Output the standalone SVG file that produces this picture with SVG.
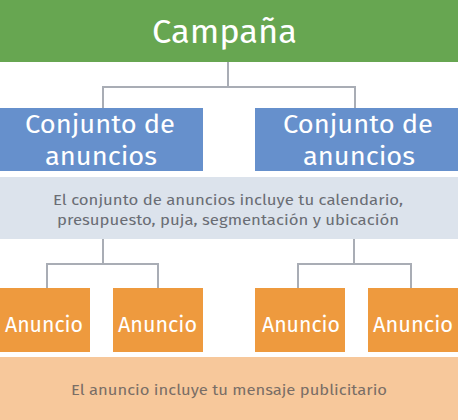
<svg xmlns="http://www.w3.org/2000/svg" width="458" height="420" viewBox="0 0 458 420">
<style>
text{font-family:"Fira Sans","Open Sans","Noto Sans",sans-serif;text-anchor:middle}
.w{fill:#ffffff}
.g{fill:#6a6d74;font-size:15.5px}
.b{fill:#7a6e66;font-size:15.5px}
.conn{fill:none;stroke:#a9adb5;stroke-width:2}
</style>
<rect width="458" height="420" fill="#ffffff"/>
<g id="connectors">
<path class="conn" d="M228 62V87M103 87H355M103 86V108M355 86V108"/>
<path class="conn" d="M103 239V264M47 264H158M47 263V288M158 263V288"/>
<path class="conn" d="M354 239V264M298 264H411M298 263V288M411 263V288"/>
</g>
<g id="campana">
<rect x="0" y="0" width="458" height="62" fill="#67a651"/>
<text class="w" x="224.5" y="43" font-size="33" textLength="145" lengthAdjust="spacingAndGlyphs">Campaña</text>
</g>
<g id="conjunto1">
<rect x="0" y="108" width="203" height="63" fill="#6690cc"/>
<text class="w" x="100" y="133" font-size="26" textLength="150" lengthAdjust="spacingAndGlyphs">Conjunto de</text>
<text class="w" x="101" y="165" font-size="26" textLength="112" lengthAdjust="spacingAndGlyphs">anuncios</text>
</g>
<g id="conjunto2">
<rect x="255" y="108" width="203" height="63" fill="#6690cc"/>
<text class="w" x="358" y="133" font-size="26" textLength="150" lengthAdjust="spacingAndGlyphs">Conjunto de</text>
<text class="w" x="359" y="165" font-size="26" textLength="112" lengthAdjust="spacingAndGlyphs">anuncios</text>
</g>
<g id="conjunto-info">
<rect x="0" y="177" width="458" height="62" fill="#dce3ec"/>
<text class="g" x="228" y="205" textLength="350" lengthAdjust="spacingAndGlyphs">El conjunto de anuncios incluye tu calendario,</text>
<text class="g" x="228" y="225" textLength="342" lengthAdjust="spacingAndGlyphs">presupuesto, puja, segmentación y ubicación</text>
</g>
<g id="anuncio1">
<rect x="0" y="288" width="90" height="64" fill="#ee9a3e"/>
<text class="w" x="44" y="332" font-size="22" textLength="78" lengthAdjust="spacingAndGlyphs">Anuncio</text>
</g>
<g id="anuncio2">
<rect x="113" y="288" width="90" height="64" fill="#ee9a3e"/>
<text class="w" x="157.5" y="332" font-size="22" textLength="79" lengthAdjust="spacingAndGlyphs">Anuncio</text>
</g>
<g id="anuncio3">
<rect x="255" y="288" width="90" height="64" fill="#ee9a3e"/>
<text class="w" x="301" y="332" font-size="22" textLength="78" lengthAdjust="spacingAndGlyphs">Anuncio</text>
</g>
<g id="anuncio4">
<rect x="368" y="288" width="90" height="64" fill="#ee9a3e"/>
<text class="w" x="413" y="332" font-size="22" textLength="80" lengthAdjust="spacingAndGlyphs">Anuncio</text>
</g>
<g id="anuncio-info">
<rect x="0" y="357" width="458" height="63" fill="#f7c89b"/>
<text class="b" x="229" y="395" textLength="316" lengthAdjust="spacingAndGlyphs">El anuncio incluye tu mensaje publicitario</text>
</g>
</svg>
